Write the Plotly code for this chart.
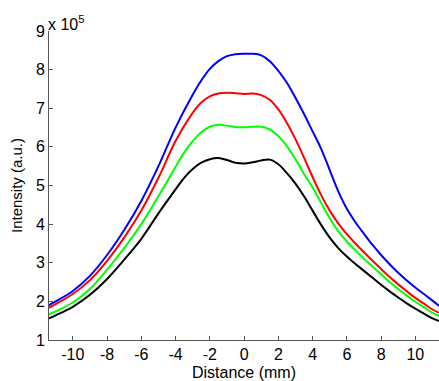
import plotly.graph_objects as go

# Data (intensity in units of 1e5)
x_blue = [-11.4, -11, -10, -9, -8, -7, -6, -5, -4, -3, -2.5, -2, -1.5, -1, -0.5, 0, 0.5, 1, 1.5, 2, 2.5, 3, 3.5, 4, 4.5, 5, 5.5, 6, 6.5, 7, 7.5, 8, 8.5, 9, 9.5, 10, 10.5, 11, 11.4]
y_blue = [1.90, 2.00, 2.27, 2.66, 3.20, 3.85, 4.60, 5.50, 6.50, 7.35, 7.72, 8.02, 8.22, 8.35, 8.40, 8.41, 8.41, 8.37, 8.22, 7.97, 7.66, 7.27, 6.85, 6.40, 5.95, 5.40, 4.85, 4.40, 4.05, 3.75, 3.46, 3.20, 2.96, 2.74, 2.54, 2.36, 2.19, 2.02, 1.88]

x_red = [-11.4, -11, -10, -9, -8, -7, -6, -5, -4, -3, -2.5, -2, -1.5, -1, -0.5, 0, 0.5, 1, 1.5, 2, 2.5, 3, 3.5, 4, 4.5, 5, 5.5, 6, 6.5, 7, 7.5, 8, 8.5, 9, 9.5, 10, 10.5, 11, 11.4]
y_red = [1.84, 1.93, 2.19, 2.55, 3.05, 3.65, 4.35, 5.20, 6.15, 6.88, 7.15, 7.31, 7.38, 7.40, 7.39, 7.37, 7.38, 7.34, 7.22, 6.97, 6.62, 6.20, 5.72, 5.22, 4.75, 4.35, 4.02, 3.74, 3.50, 3.27, 3.05, 2.84, 2.63, 2.44, 2.26, 2.09, 1.94, 1.79, 1.70]

x_green = [-11.4, -11, -10, -9, -8, -7, -6, -5, -4.5, -4, -3.5, -3, -2.5, -2, -1.5, -1, -0.5, 0, 0.5, 1, 1.5, 2, 2.5, 3, 3.5, 4, 4.5, 5, 5.5, 6, 6.5, 7, 7.5, 8, 8.5, 9, 9.5, 10, 10.5, 11, 11.4]
y_green = [1.66, 1.74, 1.97, 2.32, 2.82, 3.38, 4.00, 4.72, 5.10, 5.48, 5.85, 6.15, 6.38, 6.52, 6.57, 6.55, 6.51, 6.51, 6.52, 6.52, 6.45, 6.28, 6.02, 5.68, 5.30, 4.95, 4.55, 4.15, 3.82, 3.55, 3.32, 3.10, 2.90, 2.70, 2.50, 2.32, 2.15, 1.99, 1.85, 1.70, 1.62]

x_black = [-11.4, -11, -10, -9, -8, -7, -6, -5, -4, -3.5, -3, -2.5, -2, -1.5, -1, -0.5, 0, 0.5, 1, 1.5, 2, 2.5, 3, 3.5, 4, 4.5, 5, 5.5, 6, 6.5, 7, 7.5, 8, 8.5, 9, 9.5, 10, 10.5, 11, 11.4]
y_black = [1.56, 1.64, 1.86, 2.17, 2.58, 3.08, 3.62, 4.28, 4.90, 5.20, 5.43, 5.59, 5.68, 5.71, 5.66, 5.59, 5.57, 5.60, 5.65, 5.67, 5.55, 5.32, 5.05, 4.72, 4.35, 3.98, 3.65, 3.38, 3.16, 2.97, 2.79, 2.61, 2.43, 2.26, 2.10, 1.95, 1.81, 1.68, 1.56, 1.49]

x_ticks = [-10, -8, -6, -4, -2, 0, 2, 4, 6, 8, 10]
y_ticks = [1, 2, 3, 4, 5, 6, 7, 8, 9]

series = [
    (x_blue, y_blue, "#0000ff"),
    (x_red, y_red, "#ff0000"),
    (x_green, y_green, "#00ff00"),
    (x_black, y_black, "#000000"),
]

fig = go.Figure()
for xs, ys, c in series:
    fig.add_trace(go.Scatter(x=xs, y=ys, mode="lines",
                             line=dict(color=c, width=2, shape="spline", smoothing=1.0),
                             showlegend=False, hoverinfo="skip"))

font_family = "Arial, Liberation Sans, Helvetica, sans-serif"

fig.update_layout(
    width=439, height=381,
    margin=dict(l=49, r=0, t=31, b=41),
    paper_bgcolor="white", plot_bgcolor="white",
    font=dict(family=font_family, size=14, color="black"),
    xaxis=dict(range=[-11.39, 11.38], tickvals=x_ticks, ticktext=[str(v) for v in x_ticks],
               showgrid=False, zeroline=False, showline=True, linecolor="#555555", linewidth=1,
               ticks="inside", ticklen=4, tickcolor="#555555", automargin=False,
               tickfont=dict(size=16),
               title=dict(text="Distance (mm)", font=dict(size=16), standoff=5)),
    yaxis=dict(range=[1, 9], tickvals=y_ticks, ticktext=[str(v) for v in y_ticks],
               showgrid=False, zeroline=False, showline=True, linecolor="#555555", linewidth=1,
               ticks="inside", ticklen=4, tickcolor="#555555", automargin=False,
               tickfont=dict(size=16),
               title=dict(text="Intensity (a.u.)", font=dict(size=15), standoff=9)),
    annotations=[dict(x=0, y=1, xref="paper", yref="paper", xanchor="left", yanchor="bottom",
                      text="x 10<sup>5</sup>", showarrow=False, font=dict(size=16), xshift=-3, yshift=-4)],
)

fig.write_html("out.html", config={"displayModeBar": False},
               post_script="document.body.style.margin='0';document.body.style.overflow='hidden';")
